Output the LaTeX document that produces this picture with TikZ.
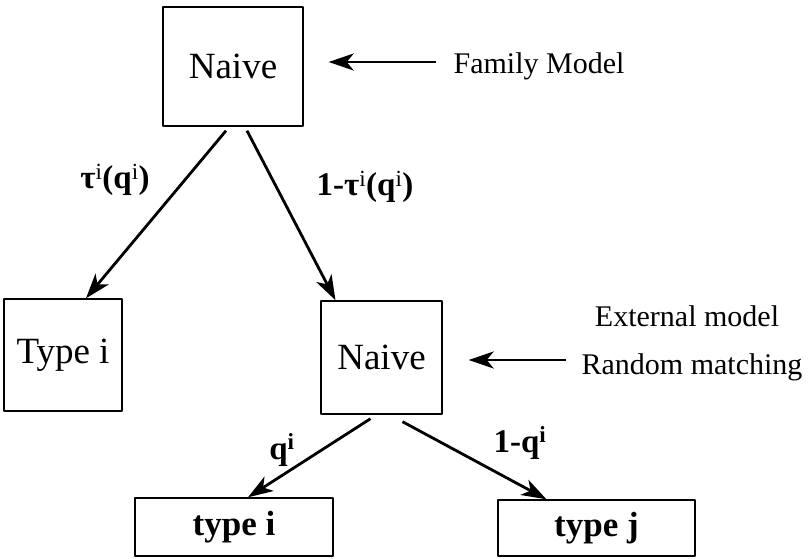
\documentclass[tikz,border=0pt]{standalone}
\usepackage{fontspec}
\setmainfont{Liberation Serif}
\usetikzlibrary{arrows.meta}
\begin{document}
\begin{tikzpicture}[x=1pt, y=-1pt, >={Stealth[length=25pt,width=17pt,inset=7pt]}, line join=round,
    box/.style={draw, line width=1.4pt, inner sep=0pt},
    arr/.style={->, line width=2.8pt},
    big/.style={font=\fontsize{37}{40}\selectfont},
    lbl/.style={font=\fontsize{33}{36}\selectfont\bfseries},
    side/.style={font=\fontsize{30}{34}\selectfont}]
\useasboundingbox (0,0) rectangle (812,559);
\node[box, big, minimum width=140pt, minimum height=119pt] (top) at (233,66.5) {Naive};
\node[box, big, minimum width=118pt, minimum height=112pt] (typeI) at (63,355) {Type i};
\node[box, big, minimum width=121pt, minimum height=113pt] (mid) at (381.5,357.5) {Naive};
\node[box, font=\fontsize{35}{38}\selectfont\bfseries, minimum width=198pt, minimum height=58pt] (typei) at (234,527) {type i};
\node[box, font=\fontsize{35}{38}\selectfont\bfseries, minimum width=197pt, minimum height=56pt] (typej) at (596.5,528) {type j};
\node[side] (fam) at (539,66) {Family Model};
\node[side] (ext) at (687,316) {External model};
\node[side] (rand) at (692,367) {Random matching};
\node[lbl] (tau) at (115,180) {τ\textsuperscript{\mdseries i}(q\textsuperscript{\mdseries i})};
\node[lbl] (ntau) at (365,187) {1-τ\textsuperscript{\mdseries i}(q\textsuperscript{\mdseries i})};
\node[lbl] (q) at (282,450) {q\textsuperscript{i}};
\node[lbl] (nq) at (520,443) {1-q\textsuperscript{i}};
% arrows
\draw[arr] ([xshift=-14pt,yshift=4pt]fam.west) -- ([xshift=25pt,yshift=4.5pt]top.east);
\draw[arr] ([xshift=-12pt,yshift=7pt]rand.west) -- ([xshift=26pt,yshift=-2.5pt]mid.east);
\draw[arr] ([xshift=-7pt,yshift=-4pt]top.south) -- ([xshift=23pt]typeI.north);
\draw[arr] ([xshift=14pt,yshift=-4pt]top.south) -- ([xshift=-46pt]mid.north);
\draw[arr] ([xshift=-11pt,yshift=-4pt]mid.south) -- ([xshift=14pt]typei.north);
\draw[arr] ([xshift=21pt,yshift=-7pt]mid.south) -- ([xshift=-50pt]typej.north);
\end{tikzpicture}
\end{document}
